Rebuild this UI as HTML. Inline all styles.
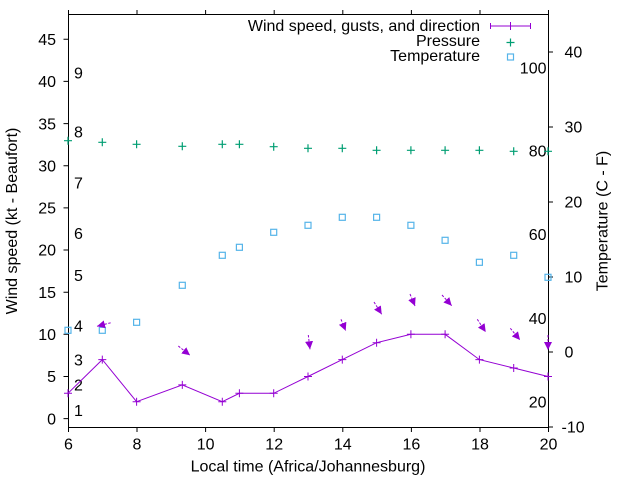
<!DOCTYPE html>
<html><head><meta charset="utf-8"><style>
html,body{margin:0;padding:0;background:#fff;}
svg{display:block;}
text{font-family:"Liberation Sans",Arial,sans-serif;font-size:16px;fill:#000;}
</style></head><body>
<svg width="640" height="480" viewBox="0 0 640 480" xmlns="http://www.w3.org/2000/svg">
<defs>
<marker id="ah" viewBox="0 0 10 10" refX="10" refY="5" markerWidth="8" markerHeight="8" markerUnits="userSpaceOnUse" orient="auto">
<path d="M0,0 L10,5 L0,10 z" fill="#9400d3"/>
</marker>
</defs>
<rect width="640" height="480" fill="#fff"/>
<!-- border -->
<rect x="68.5" y="14.5" width="480" height="413" fill="none" stroke="#000" stroke-width="1"/>
<g stroke="#000" stroke-width="1">
<!-- left ticks -->
<path d="M63.5,418.6H68.5M63.5,376.5H68.5M63.5,334.3H68.5M63.5,292.2H68.5M63.5,250H68.5M63.5,207.9H68.5M63.5,165.7H68.5M63.5,123.6H68.5M63.5,81.4H68.5M63.5,39.3H68.5"/>
<!-- bottom ticks -->
<path d="M68.5,427.5V432M137,427.5V432M205.6,427.5V432M274.2,427.5V432M342.8,427.5V432M411.4,427.5V432M480,427.5V432M548.5,427.5V432"/>
<!-- top ticks -->
<path d="M68.5,14.5V10M137,14.5V10M205.6,14.5V10M274.2,14.5V10M342.8,14.5V10M411.4,14.5V10M480,14.5V10M548.5,14.5V10"/>
<!-- right ticks -->
<path d="M548.5,427H553M548.5,352H553M548.5,277H553M548.5,202H553M548.5,127H553M548.5,52H553"/>
</g>
<!-- left tick labels -->
<g text-anchor="end">
<text x="56" y="424.3">0</text>
<text x="56" y="382.2">5</text>
<text x="56" y="340">10</text>
<text x="56" y="297.9">15</text>
<text x="56" y="255.7">20</text>
<text x="56" y="213.6">25</text>
<text x="56" y="171.4">30</text>
<text x="56" y="129.3">35</text>
<text x="56" y="87.1">40</text>
<text x="56" y="45">45</text>
</g>
<!-- bottom tick labels -->
<g text-anchor="middle">
<text x="68.5" y="449.7">6</text>
<text x="137" y="449.7">8</text>
<text x="205.6" y="449.7">10</text>
<text x="274.2" y="449.7">12</text>
<text x="342.8" y="449.7">14</text>
<text x="411.4" y="449.7">16</text>
<text x="480" y="449.7">18</text>
<text x="548.5" y="449.7">20</text>
</g>
<!-- right tick labels -->
<text x="561.5" y="432.7">-10</text>
<text x="564.5" y="357.7">0</text>
<text x="564.5" y="282.7">10</text>
<text x="564.5" y="207.7">20</text>
<text x="564.5" y="132.7">30</text>
<text x="564.5" y="57.7">40</text>
<!-- Fahrenheit labels -->
<g text-anchor="end">
<text x="546.5" y="73.7">100</text>
<text x="546.5" y="156.7">80</text>
<text x="546.5" y="240.2">60</text>
<text x="546.5" y="324">40</text>
<text x="546.5" y="407.5">20</text>
</g>
<!-- Beaufort labels -->
<g>
<text x="74" y="415.9">1</text>
<text x="74" y="390.6">2</text>
<text x="74" y="365.3">3</text>
<text x="74" y="331.6">4</text>
<text x="74" y="281">5</text>
<text x="74" y="238.8">6</text>
<text x="74" y="188.3">7</text>
<text x="74" y="137.7">8</text>
<text x="74" y="78.7">9</text>
</g>
<!-- axis labels -->
<text x="308" y="471.5" text-anchor="middle">Local time (Africa/Johannesburg)</text>
<text transform="translate(17,221) rotate(-90)" text-anchor="middle">Wind speed (kt - Beaufort)</text>
<text transform="translate(607.5,221) rotate(-90)" text-anchor="middle">Temperature (C - F)</text>
<!-- legend -->
<g text-anchor="end">
<text x="480" y="31">Wind speed, gusts, and direction</text>
<text x="480" y="46">Pressure</text>
<text x="480" y="61">Temperature</text>
</g>
<g stroke="#9400d3" stroke-width="1" fill="none">
<path d="M490.5,26H530.5M490.5,23V29M530.5,23V29M510.5,22V30"/>
</g>
<path d="M506.5,42.5H514.5M510.5,38.5V46.5" stroke="#009e73" stroke-width="1.2" fill="none"/>
<rect x="507.5" y="54" width="6" height="6" fill="none" stroke="#56b4e9" stroke-width="1.2"/>
<!-- pressure points -->
<g stroke="#009e73" stroke-width="1.2" fill="none">
<path d="M64,140.7h8M68,136.7v8"/>
<path d="M98.3,142.3h8M102.3,138.3v8"/>
<path d="M132.6,144.3h8M136.6,140.3v8"/>
<path d="M178.3,146.3h8M182.3,142.3v8"/>
<path d="M218.3,144.3h8M222.3,140.3v8"/>
<path d="M235.4,144.3h8M239.4,140.3v8"/>
<path d="M269.7,146.7h8M273.7,142.7v8"/>
<path d="M304,148.3h8M308,144.3v8"/>
<path d="M338.3,148.3h8M342.3,144.3v8"/>
<path d="M372.6,150.3h8M376.6,146.3v8"/>
<path d="M406.9,150.3h8M410.9,146.3v8"/>
<path d="M441.1,150.3h8M445.1,146.3v8"/>
<path d="M475.4,150.3h8M479.4,146.3v8"/>
<path d="M509.7,151.3h8M513.7,147.3v8"/>
<path d="M544,151.3h8M548,147.3v8"/>
</g>
<!-- temperature points -->
<g stroke="#56b4e9" stroke-width="1.2" fill="none">
<rect x="65" y="327.3" width="6" height="6"/>
<rect x="99.3" y="327.3" width="6" height="6"/>
<rect x="133.6" y="319.3" width="6" height="6"/>
<rect x="179.3" y="282.3" width="6" height="6"/>
<rect x="219.3" y="252.3" width="6" height="6"/>
<rect x="236.4" y="244.3" width="6" height="6"/>
<rect x="270.7" y="229.3" width="6" height="6"/>
<rect x="305" y="222.3" width="6" height="6"/>
<rect x="339.3" y="214.3" width="6" height="6"/>
<rect x="373.6" y="214.3" width="6" height="6"/>
<rect x="407.9" y="222.3" width="6" height="6"/>
<rect x="442.1" y="237.3" width="6" height="6"/>
<rect x="476.4" y="259.3" width="6" height="6"/>
<rect x="510.7" y="252.3" width="6" height="6"/>
<rect x="545" y="274.3" width="6" height="6"/>
</g>
<!-- wind line -->
<polyline fill="none" stroke="#9400d3" stroke-width="1" points="68,393.3 102.3,359.6 136.6,401.7 182.3,384.9 222.3,401.7 239.4,393.3 273.7,393.3 308,376.5 342.3,359.6 376.6,342.7 410.9,334.3 445.1,334.3 479.4,359.6 513.7,368 548,376.5"/>
<g stroke="#9400d3" stroke-width="1" fill="none">
<path d="M64,393.3h8M68,389.3v8"/>
<path d="M98.3,359.6h8M102.3,355.6v8"/>
<path d="M132.6,401.7h8M136.6,397.7v8"/>
<path d="M178.3,384.9h8M182.3,380.9v8"/>
<path d="M218.3,401.7h8M222.3,397.7v8"/>
<path d="M235.4,393.3h8M239.4,389.3v8"/>
<path d="M269.7,393.3h8M273.7,389.3v8"/>
<path d="M304,376.5h8M308,372.5v8"/>
<path d="M338.3,359.6h8M342.3,355.6v8"/>
<path d="M372.6,342.7h8M376.6,338.7v8"/>
<path d="M406.9,334.3h8M410.9,330.3v8"/>
<path d="M441.1,334.3h8M445.1,330.3v8"/>
<path d="M475.4,359.6h8M479.4,355.6v8"/>
<path d="M509.7,368h8M513.7,364v8"/>
<path d="M544,376.5h8M548,372.5v8"/>
</g>
<!-- wind direction arrows -->
<g stroke="#9400d3" stroke-width="1" fill="none" stroke-dasharray="2.5,1.5" marker-end="url(#ah)">
<line x1="110.7" y1="322.8" x2="97" y2="326.3"/>
<line x1="178.3" y1="346" x2="190" y2="355.3"/>
<line x1="308.3" y1="335" x2="310" y2="349.3"/>
<line x1="341" y1="319.3" x2="345.7" y2="330.7"/>
<line x1="374" y1="302" x2="381.7" y2="314.3"/>
<line x1="410" y1="294" x2="415" y2="306"/>
<line x1="442" y1="295" x2="451.7" y2="305.7"/>
<line x1="477.3" y1="319.3" x2="485.7" y2="332"/>
<line x1="510.3" y1="328.3" x2="520" y2="340"/>
<line x1="548" y1="335" x2="548" y2="350"/>
</g>
</svg>
</body></html>
